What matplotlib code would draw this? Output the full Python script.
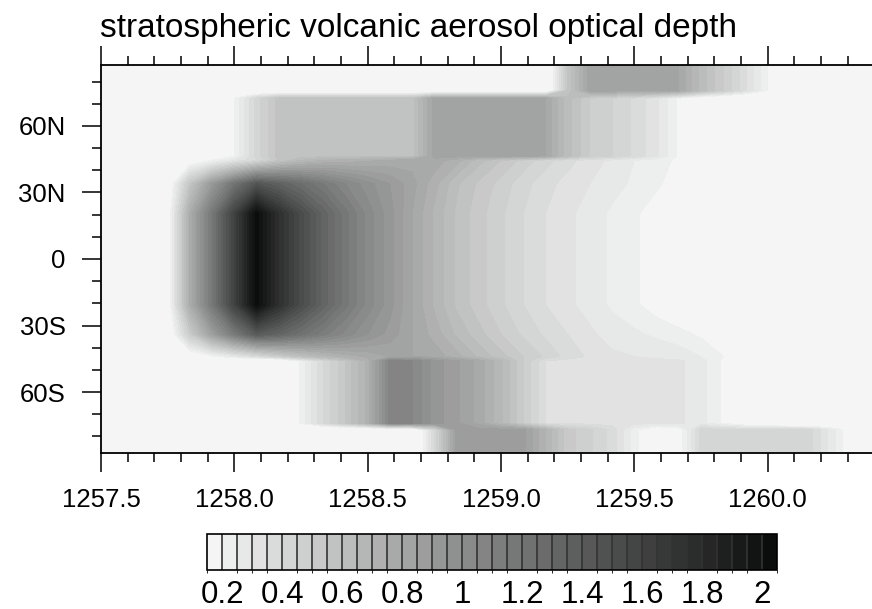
import numpy as np
import matplotlib
matplotlib.use('Agg')
import matplotlib as mpl
import matplotlib.pyplot as plt
from matplotlib.colors import ListedColormap, BoundaryNorm
from matplotlib.ticker import MultipleLocator

plt.rcParams['font.family'] = 'Liberation Sans'

# monthly time nodes (years) and latitude nodes (deg)
time = 1257.5 + np.arange(36) / 12.0
lat = [-87.5, -77, -74, -46, -44, -34, -20.5, 20.5, 34, 44.5, 46.5, 72.5, 76, 87.5]

# aerosol optical depth per latitude band
pn  = [0, 0, 0, 0, 0, 0, 0, 0, 0, 0, 0, 0, 0, 0, 0, 0, 0, 0, 0, 0,
       0, .55, .825, .825, .825, .825, .8, .63, .5, .36, .2, .08, 0, 0, 0, 0]
nb  = [0, 0, 0, 0, 0, 0, .2, .42, .575, .575, .575, .575, .575, .575, .575, .825, .825, .825,
       .825, .825, .8, .62, .5, .45, .39, .31, .19, .1, .05, 0, 0, 0, 0, 0, 0, 0]
ten = [0, 0, 0, 0, .12, .2, .3, .4, .55, .65, .7, .72, .74, .76, .78, .78, .72, .62,
       .55, .48, .42, .37, .32, .29, .25, .22, .19, .15, .1, .06, .04, .02, 0, 0, 0, 0]
tmn = [0, 0, 0, .08, .55, .9, 1.2, 1.45, 1.35, 1.25, 1.15, 1.05, .97, .9, .82, .72, .61, .54,
       .48, .42, .37, .33, .3, .27, .24, .21, .17, .13, .09, .06, .04, .02, .01, 0, 0, 0]
tc  = [0, 0, 0, .12, .75, 1.17, 1.6, 2.03, 1.75, 1.52, 1.33, 1.17, 1.03, .92, .8, .69, .59, .52,
       .46, .4, .35, .31, .28, .24, .21, .17, .13, .1, .07, .05, .03, .02, .01, 0, 0, 0]
tms = [0, 0, 0, .06, .5, .85, 1.15, 1.4, 1.32, 1.22, 1.12, 1.03, .95, .88, .8, .73, .64, .57,
       .5, .44, .39, .35, .31, .28, .26, .24, .22, .19, .15, .1, .06, .03, 0, 0, 0, 0]
tes = [0, 0, 0, 0, .1, .18, .27, .36, .48, .58, .66, .72, .76, .8, .8, .78, .72, .64,
       .57, .5, .44, .38, .34, .31, .3, .29, .28, .25, .2, .15, .1, .05, 0, 0, 0, 0]
sb  = [0, 0, 0, 0, 0, 0, 0, 0, 0, .21, .4, .55, .72, 1.07, 1.05, .93, .86, .78,
       .66, .5, .35, .33, .33, .33, .32, .31, .31, .27, .19, .1, .05, 0, 0, 0, 0, 0]
ps  = [0, 0, 0, 0, 0, 0, 0, 0, 0, 0, 0, 0, 0, 0, 0, .4, .87, .87,
       .87, .87, .7, .52, .46, .38, .22, .12, .15, .42, .42, .42, .42, .42, .4, .26, .1, 0]

aod = np.array([ps, ps, sb, sb, tes, tms, tc, tc, tmn, ten, nb, nb, pn, pn])

levels = np.arange(0.2, 2.0001, 0.05)
grays = np.linspace(0.96, 0.05, len(levels) + 1)
colors = [(g - 0.005, g, g - 0.002) for g in grays]

fig = plt.figure(figsize=(8.72, 6.09), dpi=100)
ax = fig.add_axes([101 / 872, 156 / 609, 800 / 872, 388 / 609])
ax.contourf(time, lat, aod, levels=np.concatenate(([-1.0], levels, [10.0])), colors=colors)

ax.set_xlim(1257.5, 1260.5)
ax.set_ylim(-87.5, 87.5)
xt = np.arange(1257.5, 1260.01, 0.5)
ax.set_xticks(xt)
ax.set_xticklabels(['%.1f' % v for v in xt])
ax.xaxis.set_minor_locator(MultipleLocator(0.1))
ax.set_yticks([-60, -30, 0, 30, 60])
ax.set_yticklabels(['60S', '30S', '0', '30N', '60N'])
ax.yaxis.set_minor_locator(MultipleLocator(10))
ax.tick_params(which='both', direction='out', top=True, width=1.1, labelsize=18.5)
ax.tick_params(which='major', length=13.5, pad=12)
ax.tick_params(which='minor', length=6.8)
for s in ax.spines.values():
    s.set_linewidth(1.3)

fig.text(100 / 872, 1 - 28 / 609, 'stratospheric volcanic aerosol optical depth',
         fontsize=24, va='center', ha='left')

# label bar
cax = fig.add_axes([207.3 / 872, 39 / 609, 570 / 872, 36 / 609])
bounds = np.arange(0.15, 2.0501, 0.05)
cb = mpl.colorbar.ColorbarBase(cax, cmap=ListedColormap(colors),
                               norm=BoundaryNorm(bounds, len(colors)), boundaries=bounds,
                               orientation='horizontal', drawedges=True,
                               ticks=np.arange(0.2, 2.01, 0.2))
cb.set_ticklabels(['%g' % round(v, 1) for v in np.arange(0.2, 2.01, 0.2)])
cb.ax.tick_params(length=0, labelsize=22.5, pad=7)
cb.outline.set_linewidth(1.2)
cb.dividers.set_color('#333333')
cb.dividers.set_linewidth(1.2)

fig.savefig('out.png', dpi=100)
